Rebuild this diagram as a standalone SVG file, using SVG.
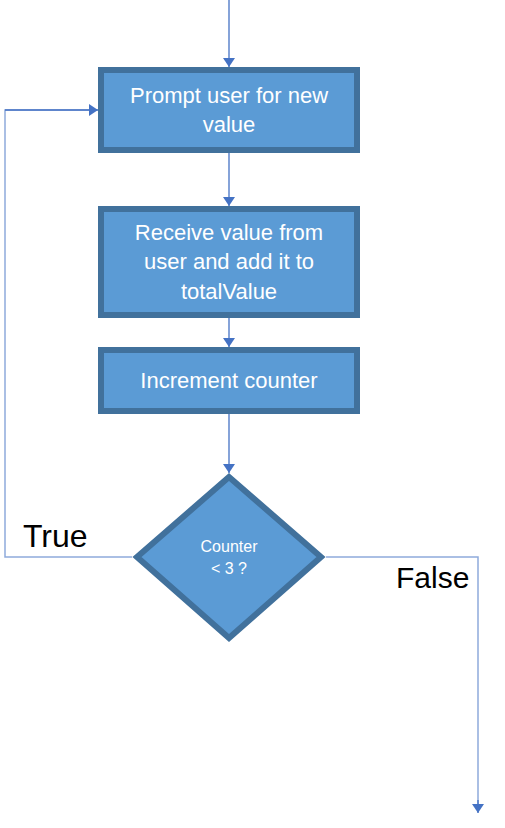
<svg xmlns="http://www.w3.org/2000/svg" width="505" height="828" viewBox="0 0 505 828">
<defs>
<style>
.box{fill:#5B9BD5;stroke:#41719C;stroke-width:6}
.t{font-family:"Liberation Sans",Arial,sans-serif;fill:#FFFFFF;text-anchor:middle}
.lbl{font-family:"Liberation Sans",Arial,sans-serif;fill:#000000;font-size:32px}
.c{fill:none;stroke:#4472C4;stroke-width:1.3}
.cl{fill:none;stroke:#8FAADC;stroke-width:1.5}
</style>
<marker id="ah" viewBox="0 0 10 10" refX="10" refY="5" markerWidth="9" markerHeight="12" markerUnits="userSpaceOnUse" orient="auto" preserveAspectRatio="none">
<path d="M0,0 L10,5 L0,10 Z" fill="#4472C4"/>
</marker>
</defs>
<rect width="505" height="828" fill="#FFFFFF"/>
<g id="connectors">
<path class="c" d="M229,0 V67" marker-end="url(#ah)"/>
<path class="c" d="M229,153 V206" marker-end="url(#ah)"/>
<path class="c" d="M229,318 V347" marker-end="url(#ah)"/>
<path class="c" d="M229,414 V473" marker-end="url(#ah)"/>
<path class="cl" d="M132,557 H5 V110 H90"/>
<path class="c" d="M5,110 H98" marker-end="url(#ah)"/>
<path class="cl" d="M326,557 H478 V804"/>
<path class="c" d="M478,800 V813" marker-end="url(#ah)"/>
</g>
<g id="node-prompt">
<rect class="box" x="101" y="70" width="256" height="80"/>
<text class="t" x="229" y="103" font-size="22">Prompt user for new</text>
<text class="t" x="229" y="132" font-size="22">value</text>
</g>
<g id="node-receive">
<rect class="box" x="101" y="209" width="256" height="106"/>
<text class="t" x="229" y="240" font-size="22">Receive value from</text>
<text class="t" x="229" y="269" font-size="22">user and add it to</text>
<text class="t" x="229" y="299" font-size="22">totalValue</text>
</g>
<g id="node-increment">
<rect class="box" x="101" y="350" width="256" height="61"/>
<text class="t" x="229" y="388" font-size="22">Increment counter</text>
</g>
<g id="node-decision">
<polygon class="box" points="229,477 321,557 229,638 137,557"/>
<text class="t" x="229" y="552" font-size="16">Counter</text>
<text class="t" x="229" y="574" font-size="16">&lt; 3 ?</text>
</g>
<g id="labels">
<text class="lbl" x="23" y="547">True</text>
<text class="lbl" x="396" y="588" style="font-size:30px">False</text>
</g>
</svg>
